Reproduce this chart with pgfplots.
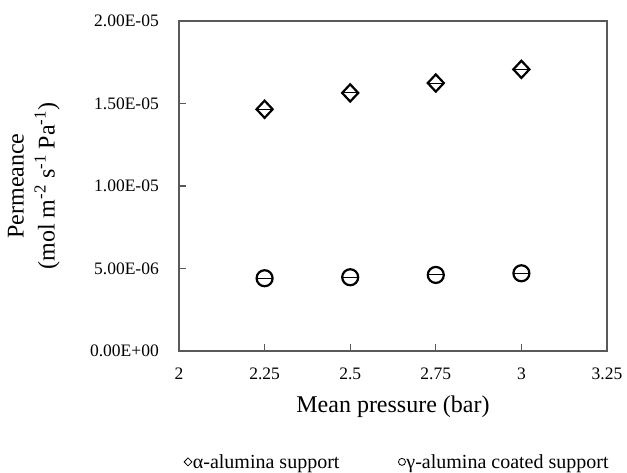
\documentclass[border=0pt]{standalone}
\usepackage{fontspec}
\setmainfont{Liberation Serif}
\usepackage{pgfplots}
\pgfplotsset{compat=1.18}
\definecolor{axgray}{HTML}{595959}
\begin{document}
\begin{tikzpicture}
\path[use as bounding box] (0,0) rectangle (627bp,473bp);
\begin{axis}[
  at={(179bp,122bp)}, anchor=south west,
  scale only axis, width=428bp, height=330bp,
  xmin=2, xmax=3.25, ymin=0, ymax=2e-5,
  axis line style={axgray, line width=1.4bp},
  xtick={2,2.25,2.5,2.75,3,3.25},
  xticklabels={2,2.25,2.5,2.75,3,3.25},
  ytick={0,5e-6,1e-5,1.5e-5,2e-5},
  yticklabels={0.00E+00,5.00E-06,1.00E-05,1.50E-05,2.00E-05},
  scaled y ticks=false,
  tick align=inside, xtick pos=bottom, ytick pos=left,
  major tick length=7bp,
  tick style={axgray, line width=1.2bp},
  ticklabel style={font=\fontsize{17.5bp}{21bp}\selectfont},
  yticklabel style={anchor=east, inner sep=0pt, xshift=-20bp},
  xticklabel style={anchor=north, inner sep=0pt, yshift=-17bp},
  xlabel={Mean pressure (bar)},
  xlabel style={font=\fontsize{24bp}{29bp}\selectfont, at={(axis description cs:0.5,-0.17)}, anchor=center},
  ylabel={Permeance\\(mol m\textsuperscript{-2} s\textsuperscript{-1} Pa\textsuperscript{-1})},
  ylabel style={font=\fontsize{24bp}{31bp}\selectfont, align=center, at={(axis description cs:-0.339,0.5)}, anchor=center, rotate=0},
  legend style={at={(axis description cs:0.509,-0.336)}, anchor=center, draw=none, fill=none,
    legend columns=2, font=\fontsize{20bp}{24bp}\selectfont,
    /tikz/every even column/.append style={column sep=58bp},
    nodes={inner sep=1bp}},
  legend image code/.code={\draw[#1] plot coordinates {(4bp,0bp)};},
  clip=false,
]
% alpha-alumina support
\addplot[only marks, mark=diamond, mark size=8.6bp, line width=2.2bp, mark options={xscale=1.25, black}, forget plot]
  coordinates {(2.25,1.465e-5) (2.5,1.564e-5) (2.75,1.624e-5) (3,1.707e-5)};
\addplot[only marks, mark=-, mark size=7bp, line width=1bp, black, forget plot]
  coordinates {(2.25,1.465e-5) (2.5,1.564e-5) (2.75,1.624e-5) (3,1.707e-5)};
% gamma-alumina coated support
\addplot[only marks, mark=o, mark size=8bp, line width=2.2bp, black, forget plot]
  coordinates {(2.25,4.41e-6) (2.5,4.47e-6) (2.75,4.61e-6) (3,4.71e-6)};
\addplot[only marks, mark=-, mark size=7bp, line width=1bp, black, forget plot]
  coordinates {(2.25,4.41e-6) (2.5,4.47e-6) (2.75,4.61e-6) (3,4.71e-6)};
\addlegendimage{only marks, mark=diamond, mark size=4bp, line width=0.8bp, mark options={xscale=1.3}, black}
\addlegendentry{α-alumina support}
\addlegendimage{only marks, mark=o, mark size=3.5bp, line width=0.8bp, black}
\addlegendentry{γ-alumina coated support}
\end{axis}
\end{tikzpicture}
\end{document}
